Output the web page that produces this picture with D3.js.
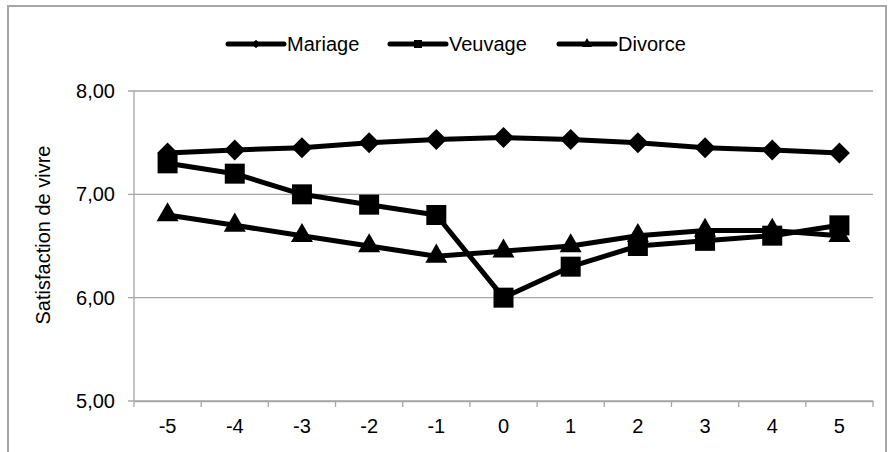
<!DOCTYPE html>
<html>
<head>
<meta charset="utf-8">
<script src="https://cdn.jsdelivr.net/npm/d3@7"></script>
<style>
  body { margin: 0; background: #fff; }
  text { font-family: "Liberation Sans", Arial, sans-serif; fill: #000; }
</style>
</head>
<body>
<svg></svg>
<script>
// categories (years around event) and series values
const categories = ["-5", "-4", "-3", "-2", "-1", "0", "1", "2", "3", "4", "5"];
const mariage = [7.40, 7.43, 7.45, 7.50, 7.53, 7.55, 7.53, 7.50, 7.45, 7.43, 7.40];
const veuvage = [7.30, 7.20, 7.00, 6.90, 6.80, 6.00, 6.30, 6.50, 6.55, 6.60, 6.70];
const divorce = [6.80, 6.70, 6.60, 6.50, 6.40, 6.45, 6.50, 6.60, 6.65, 6.65, 6.60];
const seriesNames = ["Mariage", "Veuvage", "Divorce"];
const yTicks = [5, 6, 7, 8];

const width = 891;
const height = 452;
const margin = { top: 91, right: 18, bottom: 51, left: 134 };
const gray = "#a6a6a6";
const fontSize = "20px";

const series = [
  { name: seriesNames[0], values: mariage, symbol: d3.symbolSquare, rot: 45, size: 220, legSize: 36 },
  { name: seriesNames[1], values: veuvage, symbol: d3.symbolSquare, rot: 0, size: 400, legSize: 64 },
  { name: seriesNames[2], values: divorce, symbol: d3.symbolTriangle, rot: 0, size: 210, legSize: 45 },
];

const svg = d3.select("svg").attr("width", width).attr("height", height);

// cadre du graphique
svg.append("path")
  .attr("d", `M8,${height} L8,6 L886,6 L886,${height}`)
  .attr("fill", "none")
  .attr("stroke", gray)
  .attr("stroke-width", 2);

const scaleX = d3.scaleBand().domain(categories).range([margin.left, width - margin.right]);
const scaleY = d3.scaleLinear().domain([5, 8]).range([height - margin.bottom, margin.top]);

// grille horizontale
svg.append("g")
  .selectAll("line")
  .data(yTicks)
  .enter()
  .append("line")
  .attr("x1", margin.left - 6)
  .attr("x2", width - margin.right)
  .attr("y1", (d) => scaleY(d))
  .attr("y2", (d) => scaleY(d))
  .attr("stroke", gray)
  .attr("stroke-width", 1.3);

// axe Y
svg.append("line")
  .attr("x1", margin.left).attr("x2", margin.left)
  .attr("y1", scaleY(8)).attr("y2", scaleY(5))
  .attr("stroke", gray).attr("stroke-width", 1.3);

svg.append("g")
  .selectAll("text")
  .data(yTicks)
  .enter()
  .append("text")
  .attr("x", margin.left - 19)
  .attr("y", (d) => scaleY(d))
  .attr("dy", "0.35em")
  .attr("text-anchor", "end")
  .style("font-size", fontSize)
  .text((d) => d3.format(".2f")(d).replace(".", ","));

// axe X
const xAxis = svg.append("g")
  .attr("transform", "translate(0," + scaleY(5) + ")")
  .call(d3.axisBottom(scaleX).tickSize(0).tickPadding(18));
xAxis.select(".domain").attr("stroke", gray).attr("stroke-width", 1.3);
xAxis.selectAll("text").style("font-size", fontSize).style("font-family", "Liberation Sans, Arial, sans-serif");

// graduations entre les catégories
const bounds = categories.map((c) => scaleX(c)).concat([width - margin.right]);
svg.append("g")
  .selectAll("line")
  .data(bounds)
  .enter()
  .append("line")
  .attr("x1", (d) => d).attr("x2", (d) => d)
  .attr("y1", scaleY(5)).attr("y2", scaleY(5) + 6)
  .attr("stroke", gray).attr("stroke-width", 1.3);

// titre axe Y
svg.append("text")
  .attr("transform", "rotate(-90)")
  .attr("x", -235)
  .attr("y", 50)
  .attr("text-anchor", "middle")
  .style("font-size", fontSize)
  .text("Satisfaction de vivre");

// courbes
const cx = (i) => scaleX(categories[i]) + scaleX.bandwidth() / 2;
const line = d3.line().x((d, i) => cx(i)).y((d) => scaleY(d));

series.forEach((s) => {
  svg.append("path")
    .datum(s.values)
    .attr("d", line)
    .attr("fill", "none")
    .attr("stroke", "#000")
    .attr("stroke-width", 5)
    .attr("stroke-linejoin", "round");

  svg.append("g")
    .selectAll("path")
    .data(s.values)
    .enter()
    .append("path")
    .attr("d", d3.symbol().type(s.symbol).size(s.size))
    .attr("transform", (d, i) => "translate(" + cx(i) + "," + scaleY(d) + ") rotate(" + s.rot + ")")
    .attr("fill", "#000");
});

// légende
const legendX = [228, 390, 559];
series.forEach((s, i) => {
  const g = svg.append("g").attr("transform", "translate(" + legendX[i] + ",44)");
  g.append("line")
    .attr("x1", 0).attr("x2", 56)
    .attr("stroke", "#000").attr("stroke-width", 5).attr("stroke-linecap", "round");
  g.append("path")
    .attr("d", d3.symbol().type(s.symbol).size(s.legSize))
    .attr("transform", "translate(28,0) rotate(" + s.rot + ")")
    .attr("fill", "#000");
  g.append("text")
    .attr("x", 59)
    .attr("dy", "0.35em")
    .style("font-size", fontSize)
    .text(s.name);
});
</script>
</body>
</html>
